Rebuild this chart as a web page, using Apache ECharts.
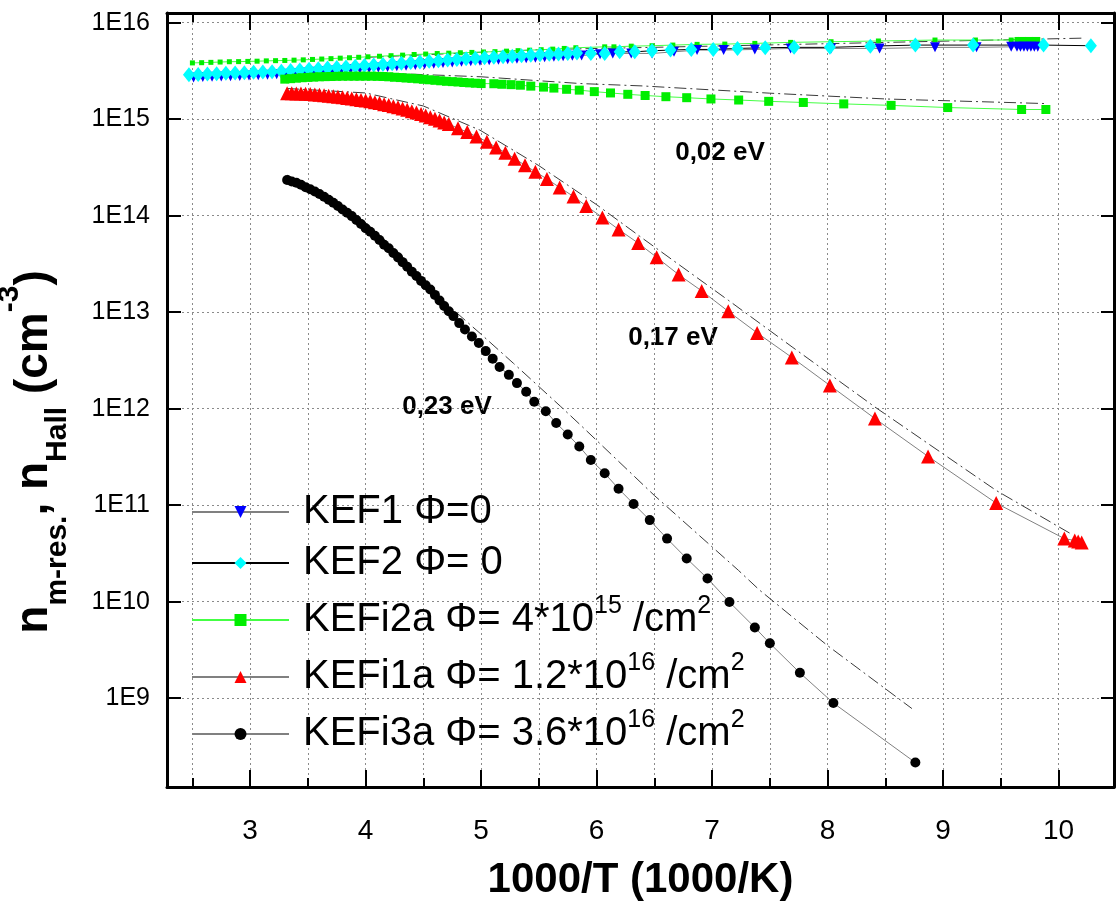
<!DOCTYPE html>
<html><head><meta charset="utf-8">
<script src="https://cdn.jsdelivr.net/npm/echarts@6/dist/echarts.min.js"></script>
<style>html,body{margin:0;padding:0;background:#fff}#c{width:1117px;height:902px}</style>
</head><body><div id="c"></div>
<script>
// ---------- axis ticks ----------
const xMajorTicks = [3, 4, 5, 6, 7, 8, 9, 10];
const xMinorTicks = [2.5, 3.5, 4.5, 5.5, 6.5, 7.5, 8.5, 9.5];

// ---------- KEF1 (blue, down triangles) ----------
const kef1X = [2.51,2.59,2.67,2.75,2.83,2.91,2.99,3.07,3.15,3.23,3.31,3.39,3.47,3.55,3.63,3.71,3.79,3.87,3.95,4.03,4.11,4.19,4.27,4.35,4.43,4.51,4.59,4.67,4.75,4.83,4.91,4.99,5.07,5.15,5.23,5.31,5.39,5.47,5.55,5.63,5.71,5.79,5.87,5.95,6.03,6.14,6.30,6.48,6.67,6.87,7.10,7.37,7.68,8.03,8.45,8.93,9.29,9.59,9.64,9.67,9.70,9.73,9.76,9.79,9.82];
const kef1Y = [2.70e15,2.73e15,2.75e15,2.77e15,2.79e15,2.81e15,2.84e15,2.86e15,2.89e15,2.92e15,2.96e15,3.01e15,3.05e15,3.10e15,3.14e15,3.19e15,3.24e15,3.29e15,3.33e15,3.38e15,3.43e15,3.48e15,3.53e15,3.58e15,3.64e15,3.70e15,3.75e15,3.81e15,3.87e15,3.93e15,3.98e15,4.03e15,4.08e15,4.13e15,4.18e15,4.23e15,4.28e15,4.33e15,4.38e15,4.43e15,4.48e15,4.53e15,4.58e15,4.63e15,4.70e15,4.80e15,4.80e15,4.80e15,4.99e15,5.20e15,5.20e15,5.28e15,5.41e15,5.41e15,5.41e15,5.55e15,5.55e15,5.62e15,5.62e15,5.62e15,5.62e15,5.62e15,5.62e15,5.62e15,5.62e15];

// ---------- KEF2 (cyan, diamonds) ----------
const kef2X = [2.47,2.55,2.63,2.71,2.79,2.87,2.95,3.03,3.11,3.19,3.27,3.35,3.43,3.51,3.59,3.67,3.75,3.83,3.91,3.99,4.07,4.15,4.23,4.31,4.39,4.47,4.55,4.63,4.71,4.79,4.87,4.95,5.03,5.11,5.19,5.27,5.35,5.43,5.51,5.59,5.67,5.75,5.83,5.95,6.07,6.20,6.33,6.48,6.64,6.82,7.01,7.22,7.46,7.71,8.02,8.37,8.76,9.26,9.87,10.28];
const kef2Y = [2.88e15,2.91e15,2.94e15,2.96e15,2.99e15,3.01e15,3.03e15,3.06e15,3.08e15,3.11e15,3.14e15,3.19e15,3.24e15,3.29e15,3.33e15,3.39e15,3.44e15,3.48e15,3.54e15,3.59e15,3.64e15,3.69e15,3.75e15,3.80e15,3.86e15,3.92e15,3.98e15,4.04e15,4.10e15,4.16e15,4.23e15,4.29e15,4.34e15,4.39e15,4.44e15,4.49e15,4.54e15,4.59e15,4.65e15,4.70e15,4.75e15,4.80e15,4.85e15,4.80e15,4.80e15,4.99e15,4.99e15,5.12e15,5.20e15,5.28e15,5.28e15,5.41e15,5.50e15,5.55e15,5.55e15,5.71e15,5.86e15,5.86e15,5.86e15,5.77e15];

// ---------- KEFi2a upper branch (small green squares) ----------
const kefi2aUpX = [2.50,2.58,2.66,2.74,2.82,2.90,2.98,3.06,3.14,3.22,3.30,3.38,3.46,3.54,3.62,3.70,3.78,3.86,3.94,4.02,4.12,4.22,4.32,4.42,4.52,4.62,4.72,4.82,4.92,5.02,5.12,5.22,5.32,5.42,5.52,5.62,5.72,5.82,6.07,6.15,6.30,6.48,6.66,6.87,7.11,7.37,7.68,8.03,8.44,8.93,9.28,9.59,9.64,9.67,9.70,9.73,9.76,9.79,9.82];
const kefi2aUpY = [3.83e15,3.85e15,3.88e15,3.91e15,3.94e15,3.95e15,3.97e15,3.99e15,4.02e15,4.04e15,4.06e15,4.09e15,4.12e15,4.16e15,4.20e15,4.24e15,4.29e15,4.33e15,4.38e15,4.43e15,4.49e15,4.55e15,4.61e15,4.68e15,4.73e15,4.79e15,4.83e15,4.88e15,4.92e15,4.97e15,5.01e15,5.07e15,5.13e15,5.19e15,5.25e15,5.32e15,5.41e15,5.50e15,5.62e15,5.62e15,5.71e15,5.77e15,5.86e15,5.96e15,6.00e15,6.10e15,6.25e15,6.35e15,6.46e15,6.61e15,6.61e15,6.61e15,6.70e15,6.70e15,6.70e15,6.70e15,6.70e15,6.70e15,6.70e15];

// ---------- KEFi2a lower branch (green squares) ----------
const kefi2aX = [3.30,3.35,3.40,3.45,3.50,3.55,3.60,3.65,3.70,3.75,3.80,3.85,3.90,3.95,4.00,4.05,4.10,4.15,4.20,4.25,4.30,4.35,4.40,4.45,4.50,4.55,4.60,4.65,4.70,4.75,4.80,4.85,4.90,4.95,5.00,5.11,5.18,5.26,5.34,5.43,5.54,5.63,5.74,5.85,5.98,6.12,6.27,6.42,6.60,6.78,6.99,7.23,7.49,7.79,8.14,8.55,9.04,9.68,9.89];
const kefi2aY = [2.60e15,2.63e15,2.66e15,2.69e15,2.71e15,2.73e15,2.75e15,2.76e15,2.77e15,2.78e15,2.79e15,2.79e15,2.79e15,2.79e15,2.79e15,2.79e15,2.78e15,2.77e15,2.75e15,2.72e15,2.70e15,2.67e15,2.65e15,2.62e15,2.59e15,2.56e15,2.53e15,2.50e15,2.47e15,2.45e15,2.43e15,2.40e15,2.38e15,2.36e15,2.34e15,2.33e15,2.30e15,2.28e15,2.25e15,2.20e15,2.15e15,2.10e15,2.04e15,2.00e15,1.93e15,1.87e15,1.81e15,1.76e15,1.71e15,1.67e15,1.62e15,1.58e15,1.53e15,1.49e15,1.44e15,1.39e15,1.32e15,1.26e15,1.26e15];

// ---------- KEFi1a (red, triangles) ----------
const kefi1aX = [3.32,3.36,3.40,3.44,3.48,3.52,3.56,3.60,3.64,3.68,3.72,3.76,3.80,3.84,3.88,3.92,3.96,4.00,4.04,4.08,4.12,4.16,4.20,4.24,4.28,4.32,4.36,4.40,4.44,4.48,4.52,4.56,4.60,4.64,4.68,4.72,4.80,4.88,4.96,5.05,5.13,5.21,5.29,5.38,5.47,5.57,5.68,5.80,5.91,6.05,6.19,6.36,6.52,6.71,6.91,7.14,7.39,7.69,8.02,8.41,8.87,9.46,10.05,10.14,10.17,10.20];
const kefi1aY = [1.86e15,1.86e15,1.85e15,1.85e15,1.83e15,1.82e15,1.80e15,1.79e15,1.77e15,1.75e15,1.73e15,1.71e15,1.69e15,1.66e15,1.64e15,1.61e15,1.58e15,1.56e15,1.53e15,1.50e15,1.47e15,1.43e15,1.40e15,1.36e15,1.33e15,1.29e15,1.25e15,1.21e15,1.17e15,1.13e15,1.09e15,1.05e15,1.01e15,9.7e14,9.25e14,8.9e14,8.05e14,7.35e14,6.6e14,5.85e14,5.1e14,4.5e14,3.9e14,3.33e14,2.85e14,2.4e14,1.96e14,1.58e14,1.26e14,9.6e13,7.2e13,5.2e13,3.7e13,2.45e13,1.66e13,1.02e13,6.1e12,3.4e12,1.74e12,7.9e11,3.2e11,1.05e11,4.5e10,4.3e10,4.2e10,4.1e10];

// ---------- KEFi3a (black, circles) ----------
const kefi3aX = [3.32,3.36,3.40,3.44,3.48,3.52,3.56,3.60,3.64,3.68,3.72,3.76,3.80,3.84,3.88,3.92,3.96,4.00,4.04,4.08,4.12,4.16,4.20,4.24,4.28,4.32,4.36,4.40,4.44,4.48,4.52,4.56,4.60,4.64,4.68,4.72,4.76,4.81,4.86,4.92,4.98,5.04,5.10,5.16,5.24,5.31,5.39,5.46,5.56,5.65,5.75,5.85,5.95,6.07,6.19,6.32,6.46,6.61,6.78,6.96,7.15,7.37,7.50,7.76,8.05,8.76];
const kefi3aY = [2.34e14,2.26e14,2.19e14,2.09e14,1.97e14,1.88e14,1.78e14,1.68e14,1.57e14,1.46e14,1.36e14,1.26e14,1.16e14,1.07e14,9.9e13,9.0e13,8.2e13,7.4e13,6.8e13,6.2e13,5.6e13,5.0e13,4.6e13,4.1e13,3.7e13,3.3e13,2.95e13,2.63e13,2.37e13,2.11e13,1.9e13,1.72e13,1.51e13,1.32e13,1.16e13,1.02e13,9.1e12,7.7e12,6.6e12,5.6e12,4.8e12,3.95e12,3.3e12,2.7e12,2.24e12,1.84e12,1.5e12,1.18e12,9.4e11,7.1e11,5.4e11,4.06e11,2.94e11,2.14e11,1.48e11,1.03e11,7.0e10,4.5e10,2.8e10,1.74e10,9.9e9,5.4e9,3.7e9,1.83e9,8.9e8,2.15e8];

// ---------- unmarked companion curves (m-res) ----------
const mresTopX = [4.00, 5.50, 7.52, 10.22];
const mresTopY = [4.37e15, 5.25e15, 5.89e15, 6.92e15];
const mresI2aX = [4.20, 5.00, 5.86, 6.40, 7.50, 8.50, 9.90];
const mresI2aY = [2.99e15, 2.75e15, 2.34e15, 2.21e15, 1.86e15, 1.62e15, 1.45e15];
const mresI1aX = [3.32, 4.00, 4.50, 4.99, 5.50, 6.00, 6.40, 7.14, 7.70, 8.41, 9.46, 10.10];
const mresI1aY = [2.08e15, 1.87e15, 1.37e15, 7.7e14, 3.3e14, 1.3e14, 5.8e13, 1.33e13, 4.3e12, 1.04e12, 1.42e11, 5.1e10];
const mresI3aX = [3.32, 3.70, 3.98, 4.30, 4.64, 5.00, 5.28, 5.69, 5.87, 6.50, 7.23, 7.41, 8.00, 8.73];
const mresI3aY = [2.63e14, 1.58e14, 8.9e13, 4.0e13, 1.41e13, 5.9e12, 2.95e12, 1.05e12, 6.6e11, 1.26e11, 2.1e10, 1.32e10, 3.5e9, 7.8e8];

// ---------- texts ----------
const legendNames = ['KEF1', 'KEF2', 'KEFi2a', 'KEFi1a', 'KEFi3a'];
const legendLabels = {
  KEF1: '{a|KEF1 Φ=0}',
  KEF2: '{a|KEF2 Φ= 0}',
  KEFi2a: '{a|KEFi2a Φ= 4*10}{s|15}{b| /cm}{s|2}',
  KEFi1a: '{a|KEFi1a Φ= 1.2*10}{s|16}{b| /cm}{s|2}',
  KEFi3a: '{a|KEFi3a Φ= 3.6*10}{s|16}{b| /cm}{s|2}'
};
const annotations = ['0,02 eV', '0,17 eV', '0,23 eV'];

const zip = (xs, ys) => xs.map((x, i) => [x, ys[i]]);
const FONT = '"Liberation Sans", Arial, sans-serif';
const gridLine = () => ({ show: true, lineStyle: { color: '#8a8a8a', width: 1, type: [2, 3] } });
const FIT_STYLE = { color: '#3a3a3a', width: 1, type: [12, 4, 2, 4] };
const X_MIN = 2.28, X_MAX = 10.48, Y_MIN = 1.2e8, Y_MAX = 1.26e16;

function fitSeries(name, xs, ys) {
  return { name, type: 'line', data: zip(xs, ys), showSymbol: false, symbol: 'none',
           lineStyle: FIT_STYLE, silent: true };
}

const chart = echarts.init(document.getElementById('c'));
chart.setOption({
  animation: false,
  textStyle: { fontFamily: FONT },
  grid: { left: 167, right: 3, top: 13, bottom: 115, outerBoundsMode: 'none' },
  xAxis: [
    { type: 'value', position: 'bottom', min: X_MIN, max: X_MAX,
      axisLine: { show: true, onZero: false, lineStyle: { color: '#000', width: 3 } },
      axisTick: { show: true, inside: true, length: 17, lineStyle: { color: '#000', width: 2 }, customValues: xMajorTicks },
      axisLabel: { show: true, customValues: xMajorTicks, margin: 30, fontSize: 28, color: '#000', fontFamily: FONT },
      splitLine: gridLine(),
      name: '1000/T (1000/K)', nameLocation: 'middle', nameGap: 72,
      nameTextStyle: { fontSize: 42, fontWeight: 'bold', color: '#000', fontFamily: FONT } },
    { type: 'value', position: 'bottom', min: X_MIN, max: X_MAX,
      axisLine: { show: false, onZero: false },
      axisTick: { show: true, inside: true, length: 9, lineStyle: { color: '#000', width: 2 }, customValues: xMinorTicks },
      axisLabel: { show: false, customValues: xMinorTicks },
      splitLine: gridLine() },
    { type: 'value', position: 'top', min: X_MIN, max: X_MAX,
      axisLine: { show: true, onZero: false, lineStyle: { color: '#000', width: 3 } },
      axisTick: { show: true, inside: true, length: 17, lineStyle: { color: '#000', width: 2 }, customValues: xMajorTicks },
      axisLabel: { show: false, customValues: xMajorTicks },
      splitLine: { show: false } },
    { type: 'value', position: 'top', min: X_MIN, max: X_MAX,
      axisLine: { show: false, onZero: false },
      axisTick: { show: true, inside: true, length: 9, lineStyle: { color: '#000', width: 2 }, customValues: xMinorTicks },
      axisLabel: { show: false, customValues: xMinorTicks },
      splitLine: { show: false } }
  ],
  yAxis: [
    { type: 'log', logBase: 10, position: 'left', min: Y_MIN, max: Y_MAX,
      axisLine: { show: true, onZero: false, lineStyle: { color: '#000', width: 3 } },
      axisTick: { show: true, inside: true, length: 14, lineStyle: { color: '#000', width: 2 } },
      axisLabel: { show: true, margin: 17, fontSize: 25, color: '#000', fontFamily: FONT,
                   showMinLabel: false, showMaxLabel: false,
                   formatter: v => '1E' + Math.round(Math.log10(v)) },
      splitLine: gridLine(),
      name: '{n|n}{sub|m-res.}{n|, n}{sub|Hall}{n| (cm}{sup|-3}{n|)}',
      nameLocation: 'middle', nameGap: 94, nameRotate: 90,
      nameTextStyle: { color: '#000', fontWeight: 'bold', fontSize: 46, fontFamily: FONT, padding: [0, 104, 0, 0],
        rich: {
          n: { fontSize: 46, fontWeight: 'bold', lineHeight: 78, color: '#000', fontFamily: FONT },
          sub: { fontSize: 30, fontWeight: 'bold', lineHeight: 30, verticalAlign: 'bottom', color: '#000', fontFamily: FONT },
          sup: { fontSize: 30, fontWeight: 'bold', lineHeight: 42, verticalAlign: 'top', color: '#000', fontFamily: FONT }
        } } },
    { type: 'log', logBase: 10, position: 'right', min: Y_MIN, max: Y_MAX,
      axisLine: { show: true, onZero: false, lineStyle: { color: '#000', width: 3 } },
      axisTick: { show: true, inside: true, length: 13, lineStyle: { color: '#000', width: 2 } },
      axisLabel: { show: false },
      splitLine: { show: false } }
  ],
  legend: {
    data: legendNames, orient: 'vertical', left: 186, top: 487,
    itemWidth: 97, itemHeight: 15, itemGap: 11,
    formatter: n => legendLabels[n],
    textStyle: { color: '#000', fontFamily: FONT,
      rich: {
        a: { fontSize: 40, lineHeight: 52, padding: [0, 0, 0, 9], color: '#000', fontFamily: FONT },
        b: { fontSize: 40, lineHeight: 52, color: '#000', fontFamily: FONT },
        s: { fontSize: 25, lineHeight: 24, verticalAlign: 'top', color: '#000', fontFamily: FONT }
      } }
  },
  graphic: [
    { type: 'text', x: 720, y: 153, style: { text: annotations[0], font: 'bold 26px ' + FONT, fill: '#000', align: 'center', verticalAlign: 'middle', textAlign: 'center', textVerticalAlign: 'middle' } },
    { type: 'text', x: 673, y: 338, style: { text: annotations[1], font: 'bold 26px ' + FONT, fill: '#000', align: 'center', verticalAlign: 'middle', textAlign: 'center', textVerticalAlign: 'middle' } },
    { type: 'text', x: 447, y: 407, style: { text: annotations[2], font: 'bold 26px ' + FONT, fill: '#000', align: 'center', verticalAlign: 'middle', textAlign: 'center', textVerticalAlign: 'middle' } }
  ],
  series: [
    fitSeries('mres-top', mresTopX, mresTopY),
    fitSeries('mres-i2a', mresI2aX, mresI2aY),
    fitSeries('mres-i1a', mresI1aX, mresI1aY),
    fitSeries('mres-i3a', mresI3aX, mresI3aY),
    { name: 'KEFi2a', type: 'line', data: zip(kefi2aUpX, kefi2aUpY), symbol: 'rect', symbolSize: 5,
      itemStyle: { color: '#00ee00' }, lineStyle: { color: '#44ff44', width: 1 } },
    { name: 'KEF1', type: 'line', data: zip(kef1X, kef1Y), symbol: 'triangle', symbolRotate: 180, symbolSize: 10,
      itemStyle: { color: '#0000ff' }, lineStyle: { color: '#808080', width: 1 } },
    { name: 'KEF2', type: 'line', data: zip(kef2X, kef2Y), symbol: 'diamond', symbolSize: [12, 15],
      itemStyle: { color: '#00ffff' }, lineStyle: { color: '#000', width: 1 } },
    { name: 'KEFi2a', type: 'line', data: zip(kefi2aX, kefi2aY), symbol: 'rect', symbolSize: 9,
      itemStyle: { color: '#00ee00' }, lineStyle: { color: '#44ff44', width: 1 } },
    { name: 'KEFi1a', type: 'line', data: zip(kefi1aX, kefi1aY), symbol: 'triangle', symbolSize: 14,
      itemStyle: { color: '#ff0000' }, lineStyle: { color: '#808080', width: 1 } },
    { name: 'KEFi3a', type: 'line', data: zip(kefi3aX, kefi3aY), symbol: 'circle', symbolSize: 10,
      itemStyle: { color: '#000' }, lineStyle: { color: '#808080', width: 1 } }
  ]
});
</script></body></html>
